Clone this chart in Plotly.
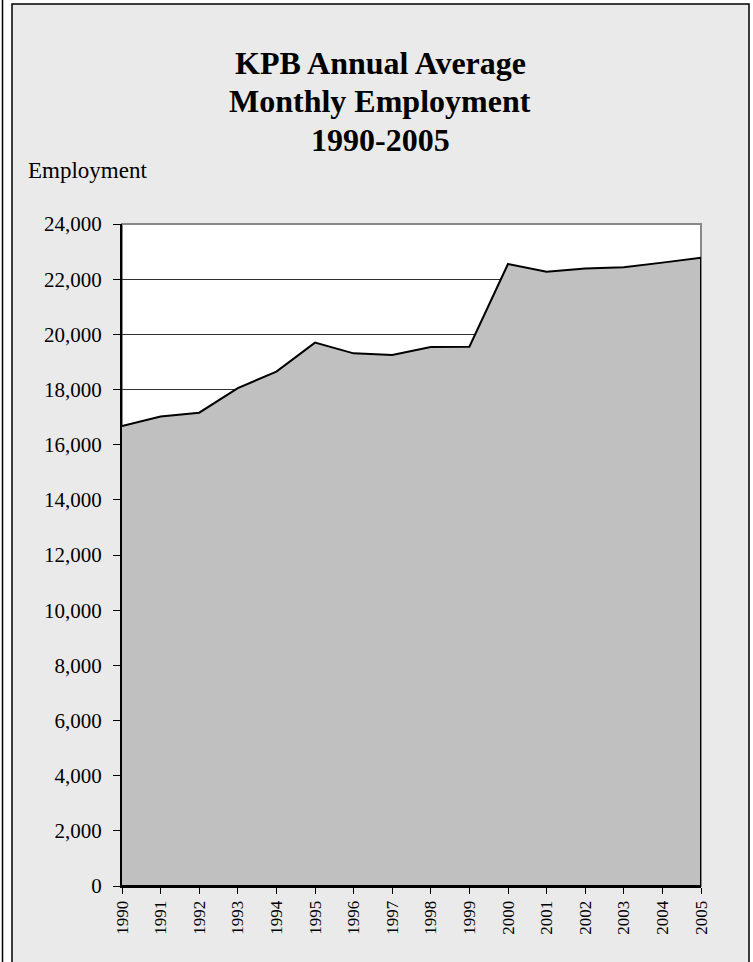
import plotly.graph_objects as go

years = list(range(1990, 2006))
employment = [16680, 17020, 17160, 18050, 18650, 19700, 19310, 19250,
              19540, 19550, 22550, 22270, 22390, 22430, 22600, 22780]
y_ticks = list(range(0, 24001, 2000))
title_lines = ["KPB Annual Average", "Monthly Employment", "1990-2005"]
y_label = "Employment"

W, H = 753, 962
L, R, T, B = 122, 52, 224, 76
pw, ph = W - L - R, H - T - B
SERIF = "Liberation Serif, Times New Roman, serif"

def px_x(p):
    return (p - L) / pw

def px_y(p):
    return (H - B - p) / ph

fig = go.Figure()
# closed polygon built from data: top line, then down to zero and back
fig.add_trace(go.Scatter(
    x=years + [years[-1], years[0]],
    y=employment + [0, 0],
    mode="lines", fill="toself", fillcolor="#C0C0C0",
    line=dict(color="black", width=2), hoverinfo="skip", showlegend=False))

title_y = [63, 101, 140.5]
annotations = [
    dict(text=f"<b>{t}</b>", xref="paper", yref="paper",
         x=px_x(380), y=px_y(yy), xanchor="center", yanchor="middle",
         showarrow=False, font=dict(size=32, family=SERIF))
    for t, yy in zip(title_lines, title_y)
]
annotations.append(
    dict(text=y_label, xref="paper", yref="paper",
         x=px_x(26), y=px_y(171), xanchor="left", yanchor="middle",
         showarrow=False, font=dict(size=23, family=SERIF)))

fig.update_layout(
    width=W, height=H,
    margin=dict(l=L, r=R, t=T, b=B),
    paper_bgcolor="white", plot_bgcolor="white",
    font=dict(family=SERIF, color="black"),
    showlegend=False,
    xaxis=dict(range=[years[0], years[-1]], tickmode="array", tickvals=years,
               ticktext=[str(y) for y in years], tickangle=-90,
               ticks="outside", ticklen=6, tickcolor="black", tickwidth=1,
               showline=True, linecolor="black", linewidth=2,
               showgrid=False, zeroline=False, tickfont=dict(size=17),
               ticklabelstandoff=0),
    yaxis=dict(range=[0, 24000], tickmode="array", tickvals=y_ticks,
               ticktext=[f"{v:,}" for v in y_ticks],
               ticks="outside", ticklen=7, tickcolor="black", tickwidth=1,
               showline=True, linecolor="black", linewidth=2,
               showgrid=True, gridcolor="#303030", gridwidth=1,
               zeroline=False, tickfont=dict(size=21),
               ticklabelstandoff=7),
    shapes=[
        dict(type="rect", xref="paper", yref="paper", layer="below",
             x0=px_x(12), x1=px_x(749), y0=px_y(975), y1=px_y(4),
             fillcolor="#EAEAEA", line=dict(color="black", width=1.5)),
        dict(type="rect", xref="paper", yref="paper", layer="below",
             x0=0, x1=1, y0=0, y1=1,
             fillcolor="white", line=dict(color="#888888", width=2)),
        dict(type="line", xref="paper", yref="paper", layer="below",
             x0=px_x(2.5), x1=px_x(2.5), y0=px_y(975), y1=px_y(-10),
             line=dict(color="black", width=1.5)),
    ],
    annotations=annotations,
)
fig.write_html("out.html", config={"displayModeBar": False},
               post_script="document.body.style.margin='0';document.body.style.overflow='hidden';")
